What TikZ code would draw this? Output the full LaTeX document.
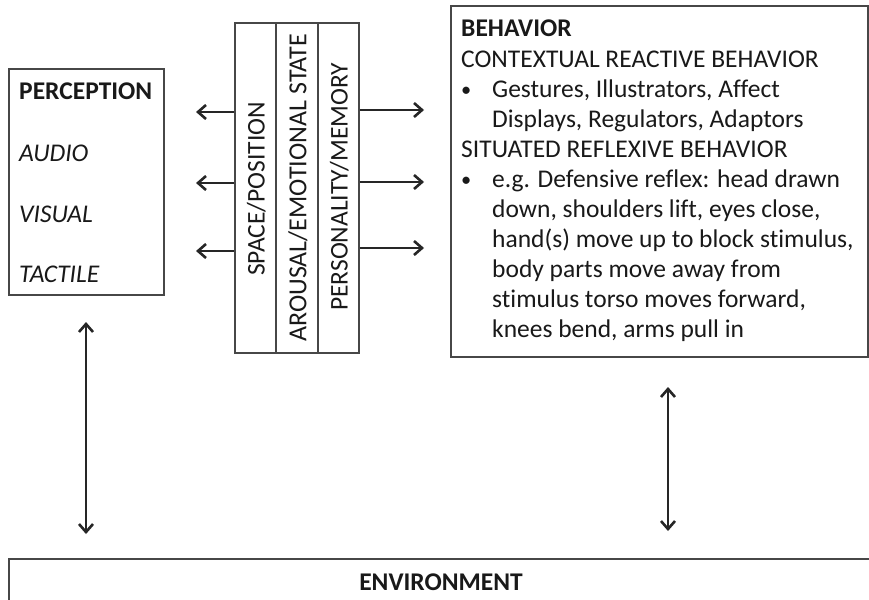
\documentclass[tikz,border=0pt]{standalone}
\usepackage{fontspec}
\setmainfont{Carlito}[Ligatures=NoCommon]
\usetikzlibrary{arrows.meta}
\begin{document}
\begin{tikzpicture}[x=1pt,y=-1pt,
  box/.style={draw=black!72,line width=1.6pt,fill=white,inner sep=0pt},
  tip/.tip={Straight Barb[length=8pt,width=14pt,line width=2.6pt]},
  arr/.style={draw=black!85,line width=2.6pt,-tip},
  darr/.style={draw=black!85,line width=2.6pt,tip-tip},
  fnt/.style={font=\fontsize{25.5}{30}\selectfont},
  txt/.style={anchor=base west,inner sep=0pt,text=black!90},
  vtxt/.style={rotate=90,inner sep=0pt,text=black!90,font=\fontsize{25.5}{30}\selectfont}]
\useasboundingbox[fill=white] (0,0) rectangle (869,599);
% perception
\node[box,anchor=north west,minimum width=155pt,minimum height=226pt] (perc) at (8,68) {};
\node[txt,font=\fontsize{25.5}{30}\selectfont\bfseries] (pt) at (19,100) {PERCEPTION};
\node[txt,font=\fontsize{25.5}{30}\selectfont\itshape] (pa) at (19,161) {AUDIO};
\node[txt,font=\fontsize{25.5}{30}\selectfont\itshape] (pv) at (19,222) {VISUAL};
\node[txt,font=\fontsize{25.5}{30}\selectfont\itshape] (ptac) at (19,282) {TACTILE};
% middle columns
\node[box,anchor=north west,minimum width=41pt,minimum height=330pt] (sp) at (234,22) {};
\node[box,anchor=north west,minimum width=42pt,minimum height=330pt] (ar) at (275,22) {};
\node[box,anchor=north west,minimum width=41pt,minimum height=330pt] (pm) at (317,22) {};
\node[vtxt] (spt) at ([xshift=1pt,yshift=-1pt]sp.center) {SPACE/POSITION};
\node[vtxt,font=\fontsize{26}{30}\selectfont] (art) at ([xshift=1pt]ar.center) {AROUSAL/EMOTIONAL STATE};
\node[vtxt] (pmt) at ([xshift=1pt,yshift=1pt]pm.center) {PERSONALITY/MEMORY};
% behavior
\node[box,anchor=north west,minimum width=417pt,minimum height=351pt] (beh) at (450,5) {};
\node[txt,font=\fontsize{25.5}{30}\selectfont\bfseries] (b0) at (461,37) {BEHAVIOR};
\node[txt,fnt,align=left,anchor=north west] (b1) at (461,51) {CONTEXTUAL REACTIVE BEHAVIOR\\
\makebox[31pt][l]{\raisebox{1pt}{\scalebox{0.8}{•}}}Gestures, Illustrators, Affect\\
\makebox[31pt][l]{}Displays, Regulators, Adaptors\\
SITUATED REFLEXIVE BEHAVIOR\\
\makebox[31pt][l]{\raisebox{1pt}{\scalebox{0.8}{•}}}e.g. Defensive reflex: head drawn\\
\makebox[31pt][l]{}down, shoulders lift, eyes close,\\
\makebox[31pt][l]{}hand(s) move up to block stimulus,\\
\makebox[31pt][l]{}body parts move away from\\
\makebox[31pt][l]{}stimulus torso moves forward,\\
\makebox[31pt][l]{}knees bend, arms pull in};
% environment
\node[box,anchor=north west,minimum width=880pt,minimum height=60pt] (env) at (8,558) {};
\node[anchor=base,inner sep=0pt,text=black!90,font=\fontsize{25.5}{30}\selectfont\bfseries] (envt) at (441,590) {ENVIRONMENT};
% arrows
\coordinate (l1) at (196,112);
\coordinate (l2) at (196,183);
\coordinate (l3) at (196,251);
\coordinate (r1) at (424,110);
\coordinate (r2) at (424,182);
\coordinate (r3) at (424,248);
\draw[arr] (sp.west |- l1) -- (l1);
\draw[arr] (sp.west |- l2) -- (l2);
\draw[arr] (sp.west |- l3) -- (l3);
\draw[arr] (pm.east |- r1) -- (r1);
\draw[arr] (pm.east |- r2) -- (r2);
\draw[arr] (pm.east |- r3) -- (r3);
\coordinate (va1) at (86,322);
\coordinate (va2) at (86,534);
\coordinate (vb1) at (668,387);
\coordinate (vb2) at (668,531);
\draw[darr] (va1) -- (va2);
\draw[darr] (vb1) -- (vb2);
\end{tikzpicture}
\end{document}
